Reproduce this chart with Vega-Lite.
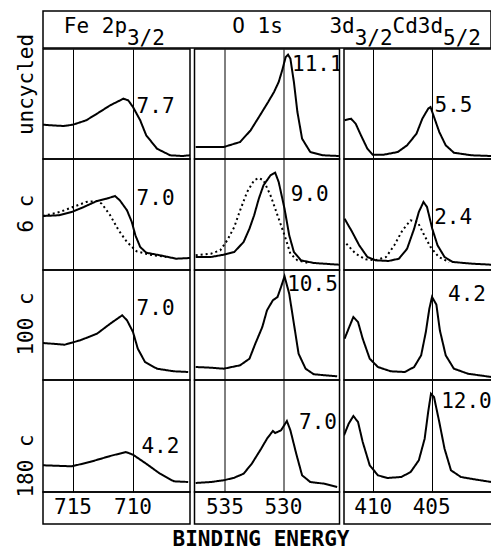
{
"$schema":"https://vega.github.io/schema/vega-lite/v6.json",
"padding":{"left":10,"top":10,"right":0,"bottom":0},
"background":"white",
"datasets":{
"spec":[
{"c":"Fe","r":"u","s":"solid","E":717.5,"I":34.3},{"c":"Fe","r":"u","s":"solid","E":716.6,"I":33.5},{"c":"Fe","r":"u","s":"solid","E":715.8,"I":33},{"c":"Fe","r":"u","s":"solid","E":715.0,"I":34.3},{"c":"Fe","r":"u","s":"solid","E":713.9,"I":38.7},{"c":"Fe","r":"u","s":"solid","E":713.0,"I":45.3},{"c":"Fe","r":"u","s":"solid","E":711.9,"I":53.7},{"c":"Fe","r":"u","s":"solid","E":710.8,"I":60.3},{"c":"Fe","r":"u","s":"solid","E":710.4,"I":58.7},{"c":"Fe","r":"u","s":"solid","E":710.0,"I":52},{"c":"Fe","r":"u","s":"solid","E":709.4,"I":38.7},{"c":"Fe","r":"u","s":"solid","E":708.9,"I":23.7},{"c":"Fe","r":"u","s":"solid","E":708.0,"I":10.3},{"c":"Fe","r":"u","s":"solid","E":706.9,"I":3.7},{"c":"Fe","r":"u","s":"solid","E":705.9,"I":3},{"c":"Fe","r":"u","s":"solid","E":705.25,"I":3.7},
{"c":"Fe","r":"6","s":"solid","E":717.5,"I":54},{"c":"Fe","r":"6","s":"solid","E":716.2,"I":54.7},{"c":"Fe","r":"6","s":"solid","E":715.1,"I":58},{"c":"Fe","r":"6","s":"solid","E":714.1,"I":63},{"c":"Fe","r":"6","s":"solid","E":713.0,"I":69},{"c":"Fe","r":"6","s":"solid","E":712.2,"I":71.3},{"c":"Fe","r":"6","s":"solid","E":711.5,"I":74},{"c":"Fe","r":"6","s":"solid","E":711.1,"I":69.7},{"c":"Fe","r":"6","s":"solid","E":710.5,"I":59.7},{"c":"Fe","r":"6","s":"solid","E":710.1,"I":48},{"c":"Fe","r":"6","s":"solid","E":709.8,"I":34.7},{"c":"Fe","r":"6","s":"solid","E":709.4,"I":23},{"c":"Fe","r":"6","s":"solid","E":708.9,"I":17.3},{"c":"Fe","r":"6","s":"solid","E":707.75,"I":14.7},{"c":"Fe","r":"6","s":"solid","E":706.4,"I":11.3},{"c":"Fe","r":"6","s":"solid","E":705.25,"I":12},
{"c":"Fe","r":"6","s":"dotted","E":717.5,"I":54},{"c":"Fe","r":"6","s":"dotted","E":716.1,"I":58},{"c":"Fe","r":"6","s":"dotted","E":715.0,"I":63},{"c":"Fe","r":"6","s":"dotted","E":713.9,"I":68},{"c":"Fe","r":"6","s":"dotted","E":713.0,"I":69},{"c":"Fe","r":"6","s":"dotted","E":712.6,"I":66.3},{"c":"Fe","r":"6","s":"dotted","E":711.9,"I":54.7},{"c":"Fe","r":"6","s":"dotted","E":711.2,"I":39.7},{"c":"Fe","r":"6","s":"dotted","E":710.5,"I":28},{"c":"Fe","r":"6","s":"dotted","E":709.7,"I":18.7},{"c":"Fe","r":"6","s":"dotted","E":708.6,"I":15.3},{"c":"Fe","r":"6","s":"dotted","E":707.2,"I":13},
{"c":"Fe","r":"100","s":"solid","E":717.5,"I":37},{"c":"Fe","r":"100","s":"solid","E":715.7,"I":35.3},{"c":"Fe","r":"100","s":"solid","E":714.4,"I":39.7},{"c":"Fe","r":"100","s":"solid","E":713.0,"I":46.3},{"c":"Fe","r":"100","s":"solid","E":711.9,"I":56.3},{"c":"Fe","r":"100","s":"solid","E":710.9,"I":64.7},{"c":"Fe","r":"100","s":"solid","E":710.5,"I":59.7},{"c":"Fe","r":"100","s":"solid","E":710.0,"I":48},{"c":"Fe","r":"100","s":"solid","E":709.6,"I":31.3},{"c":"Fe","r":"100","s":"solid","E":709.0,"I":18},{"c":"Fe","r":"100","s":"solid","E":708.0,"I":11.3},{"c":"Fe","r":"100","s":"solid","E":706.6,"I":8.7},{"c":"Fe","r":"100","s":"solid","E":705.4,"I":8},
{"c":"Fe","r":"180","s":"solid","E":717.5,"I":26.7},{"c":"Fe","r":"180","s":"solid","E":715.1,"I":25.7},{"c":"Fe","r":"180","s":"solid","E":713.6,"I":30},{"c":"Fe","r":"180","s":"solid","E":711.9,"I":36},{"c":"Fe","r":"180","s":"solid","E":710.6,"I":40},{"c":"Fe","r":"180","s":"solid","E":710.0,"I":37.3},{"c":"Fe","r":"180","s":"solid","E":708.9,"I":28.3},{"c":"Fe","r":"180","s":"solid","E":707.75,"I":18.3},{"c":"Fe","r":"180","s":"solid","E":706.6,"I":10.7},{"c":"Fe","r":"180","s":"solid","E":705.4,"I":10},
{"c":"O","r":"u","s":"solid","E":537.5,"I":12},{"c":"O","r":"u","s":"solid","E":535.1,"I":12},{"c":"O","r":"u","s":"solid","E":533.7,"I":17},{"c":"O","r":"u","s":"solid","E":532.8,"I":28.7},{"c":"O","r":"u","s":"solid","E":532.0,"I":43.7},{"c":"O","r":"u","s":"solid","E":531.3,"I":57},{"c":"O","r":"u","s":"solid","E":530.8,"I":67},{"c":"O","r":"u","s":"solid","E":530.4,"I":77},{"c":"O","r":"u","s":"solid","E":530.1,"I":88.7},{"c":"O","r":"u","s":"solid","E":529.8,"I":102},{"c":"O","r":"u","s":"solid","E":529.6,"I":104.3},{"c":"O","r":"u","s":"solid","E":529.4,"I":100.3},{"c":"O","r":"u","s":"solid","E":529.1,"I":77},{"c":"O","r":"u","s":"solid","E":528.8,"I":47},{"c":"O","r":"u","s":"solid","E":528.4,"I":20.3},{"c":"O","r":"u","s":"solid","E":527.7,"I":7},{"c":"O","r":"u","s":"solid","E":526.6,"I":3.7},{"c":"O","r":"u","s":"solid","E":525.25,"I":3},
{"c":"O","r":"6","s":"solid","E":537.5,"I":13},{"c":"O","r":"6","s":"solid","E":536.2,"I":13},{"c":"O","r":"6","s":"solid","E":535.1,"I":15.3},{"c":"O","r":"6","s":"solid","E":534.2,"I":18},{"c":"O","r":"6","s":"solid","E":533.4,"I":28},{"c":"O","r":"6","s":"solid","E":532.9,"I":41.3},{"c":"O","r":"6","s":"solid","E":532.5,"I":54.7},{"c":"O","r":"6","s":"solid","E":532.1,"I":71.3},{"c":"O","r":"6","s":"solid","E":531.7,"I":84.7},{"c":"O","r":"6","s":"solid","E":531.1,"I":94.7},{"c":"O","r":"6","s":"solid","E":530.7,"I":97.3},{"c":"O","r":"6","s":"solid","E":530.4,"I":88},{"c":"O","r":"6","s":"solid","E":529.9,"I":61.3},{"c":"O","r":"6","s":"solid","E":529.5,"I":34.7},{"c":"O","r":"6","s":"solid","E":529.1,"I":18},{"c":"O","r":"6","s":"solid","E":528.5,"I":9.7},{"c":"O","r":"6","s":"solid","E":527.4,"I":7},{"c":"O","r":"6","s":"solid","E":525.25,"I":5.3},
{"c":"O","r":"6","s":"dotted","E":537.5,"I":14.7},{"c":"O","r":"6","s":"dotted","E":536.2,"I":16.3},{"c":"O","r":"6","s":"dotted","E":535.4,"I":19.7},{"c":"O","r":"6","s":"dotted","E":534.8,"I":29.7},{"c":"O","r":"6","s":"dotted","E":534.2,"I":43},{"c":"O","r":"6","s":"dotted","E":533.7,"I":59.7},{"c":"O","r":"6","s":"dotted","E":533.1,"I":78},{"c":"O","r":"6","s":"dotted","E":532.5,"I":89.7},{"c":"O","r":"6","s":"dotted","E":532.1,"I":92},{"c":"O","r":"6","s":"dotted","E":531.7,"I":89.7},{"c":"O","r":"6","s":"dotted","E":531.1,"I":74.7},{"c":"O","r":"6","s":"dotted","E":530.5,"I":54.7},{"c":"O","r":"6","s":"dotted","E":529.9,"I":34.7},{"c":"O","r":"6","s":"dotted","E":529.4,"I":16.3},{"c":"O","r":"6","s":"dotted","E":528.8,"I":9.7},{"c":"O","r":"6","s":"dotted","E":527.9,"I":7},
{"c":"O","r":"100","s":"solid","E":537.5,"I":13},{"c":"O","r":"100","s":"solid","E":536.2,"I":12.3},{"c":"O","r":"100","s":"solid","E":535.1,"I":11.3},{"c":"O","r":"100","s":"solid","E":533.7,"I":14.7},{"c":"O","r":"100","s":"solid","E":532.9,"I":21.3},{"c":"O","r":"100","s":"solid","E":532.4,"I":36.3},{"c":"O","r":"100","s":"solid","E":531.8,"I":53},{"c":"O","r":"100","s":"solid","E":531.4,"I":69.7},{"c":"O","r":"100","s":"solid","E":530.9,"I":79.7},{"c":"O","r":"100","s":"solid","E":530.5,"I":83},{"c":"O","r":"100","s":"solid","E":530.2,"I":93},{"c":"O","r":"100","s":"solid","E":529.9,"I":103.7},{"c":"O","r":"100","s":"solid","E":529.5,"I":86.3},{"c":"O","r":"100","s":"solid","E":529.1,"I":56.3},{"c":"O","r":"100","s":"solid","E":528.7,"I":26.3},{"c":"O","r":"100","s":"solid","E":528.1,"I":11.3},{"c":"O","r":"100","s":"solid","E":527.4,"I":5.7},{"c":"O","r":"100","s":"solid","E":525.4,"I":3.7},
{"c":"O","r":"180","s":"solid","E":537.5,"I":9},{"c":"O","r":"180","s":"solid","E":536.2,"I":10},{"c":"O","r":"180","s":"solid","E":535.1,"I":11.7},{"c":"O","r":"180","s":"solid","E":534.2,"I":14.3},{"c":"O","r":"180","s":"solid","E":533.4,"I":18.3},{"c":"O","r":"180","s":"solid","E":532.7,"I":28.3},{"c":"O","r":"180","s":"solid","E":531.9,"I":43.3},{"c":"O","r":"180","s":"solid","E":531.4,"I":53.3},{"c":"O","r":"180","s":"solid","E":530.9,"I":61},{"c":"O","r":"180","s":"solid","E":530.7,"I":59},{"c":"O","r":"180","s":"solid","E":530.2,"I":61.7},{"c":"O","r":"180","s":"solid","E":529.7,"I":71},{"c":"O","r":"180","s":"solid","E":529.4,"I":61.7},{"c":"O","r":"180","s":"solid","E":528.9,"I":38.3},{"c":"O","r":"180","s":"solid","E":528.4,"I":16.7},{"c":"O","r":"180","s":"solid","E":527.7,"I":10},{"c":"O","r":"180","s":"solid","E":526.5,"I":8.3},{"c":"O","r":"180","s":"solid","E":525.4,"I":5},
{"c":"Cd","r":"u","s":"solid","E":412.45,"I":38.7},{"c":"Cd","r":"u","s":"solid","E":411.9,"I":40.3},{"c":"Cd","r":"u","s":"solid","E":411.5,"I":35.3},{"c":"Cd","r":"u","s":"solid","E":411.05,"I":23.7},{"c":"Cd","r":"u","s":"solid","E":410.5,"I":10.3},{"c":"Cd","r":"u","s":"solid","E":410.05,"I":4.3},{"c":"Cd","r":"u","s":"solid","E":409.1,"I":4.3},{"c":"Cd","r":"u","s":"solid","E":407.9,"I":7},{"c":"Cd","r":"u","s":"solid","E":407.1,"I":13.7},{"c":"Cd","r":"u","s":"solid","E":406.3,"I":25.3},{"c":"Cd","r":"u","s":"solid","E":405.8,"I":40.3},{"c":"Cd","r":"u","s":"solid","E":405.3,"I":50.3},{"c":"Cd","r":"u","s":"solid","E":405.1,"I":52},{"c":"Cd","r":"u","s":"solid","E":404.8,"I":42},{"c":"Cd","r":"u","s":"solid","E":404.35,"I":27},{"c":"Cd","r":"u","s":"solid","E":403.8,"I":13.7},{"c":"Cd","r":"u","s":"solid","E":403.1,"I":6.3},{"c":"Cd","r":"u","s":"solid","E":401.6,"I":3.7},{"c":"Cd","r":"u","s":"solid","E":399.9,"I":3},
{"c":"Cd","r":"6","s":"solid","E":412.45,"I":51.3},{"c":"Cd","r":"6","s":"solid","E":411.8,"I":38},{"c":"Cd","r":"6","s":"solid","E":411.2,"I":24.7},{"c":"Cd","r":"6","s":"solid","E":410.5,"I":13},{"c":"Cd","r":"6","s":"solid","E":409.8,"I":9.7},{"c":"Cd","r":"6","s":"solid","E":408.7,"I":9},{"c":"Cd","r":"6","s":"solid","E":407.8,"I":11.3},{"c":"Cd","r":"6","s":"solid","E":407.1,"I":21.3},{"c":"Cd","r":"6","s":"solid","E":406.5,"I":41.3},{"c":"Cd","r":"6","s":"solid","E":406.1,"I":58},{"c":"Cd","r":"6","s":"solid","E":405.7,"I":68},{"c":"Cd","r":"6","s":"solid","E":405.4,"I":63},{"c":"Cd","r":"6","s":"solid","E":404.95,"I":41.3},{"c":"Cd","r":"6","s":"solid","E":404.5,"I":24.7},{"c":"Cd","r":"6","s":"solid","E":403.9,"I":13},{"c":"Cd","r":"6","s":"solid","E":403.2,"I":8},{"c":"Cd","r":"6","s":"solid","E":401.5,"I":6.3},{"c":"Cd","r":"6","s":"solid","E":399.9,"I":5.3},
{"c":"Cd","r":"6","s":"dotted","E":412.3,"I":26.3},{"c":"Cd","r":"6","s":"dotted","E":411.5,"I":16.3},{"c":"Cd","r":"6","s":"dotted","E":410.65,"I":10.7},{"c":"Cd","r":"6","s":"dotted","E":409.8,"I":9.7},{"c":"Cd","r":"6","s":"dotted","E":408.9,"I":13},{"c":"Cd","r":"6","s":"dotted","E":408.2,"I":24.7},{"c":"Cd","r":"6","s":"dotted","E":407.5,"I":39.7},{"c":"Cd","r":"6","s":"dotted","E":406.8,"I":49.7},{"c":"Cd","r":"6","s":"dotted","E":406.2,"I":48},{"c":"Cd","r":"6","s":"dotted","E":405.7,"I":36.3},{"c":"Cd","r":"6","s":"dotted","E":405.1,"I":23},{"c":"Cd","r":"6","s":"dotted","E":404.4,"I":13},{"c":"Cd","r":"6","s":"dotted","E":403.5,"I":8},
{"c":"Cd","r":"100","s":"solid","E":412.45,"I":41.3},{"c":"Cd","r":"100","s":"solid","E":412.05,"I":53},{"c":"Cd","r":"100","s":"solid","E":411.7,"I":63},{"c":"Cd","r":"100","s":"solid","E":411.3,"I":58},{"c":"Cd","r":"100","s":"solid","E":410.9,"I":41.3},{"c":"Cd","r":"100","s":"solid","E":410.3,"I":21.3},{"c":"Cd","r":"100","s":"solid","E":409.6,"I":13},{"c":"Cd","r":"100","s":"solid","E":408.5,"I":8.7},{"c":"Cd","r":"100","s":"solid","E":407.3,"I":8},{"c":"Cd","r":"100","s":"solid","E":406.5,"I":13},{"c":"Cd","r":"100","s":"solid","E":405.9,"I":24.7},{"c":"Cd","r":"100","s":"solid","E":405.5,"I":48},{"c":"Cd","r":"100","s":"solid","E":405.2,"I":71.3},{"c":"Cd","r":"100","s":"solid","E":404.97,"I":83},{"c":"Cd","r":"100","s":"solid","E":404.6,"I":75.5},{"c":"Cd","r":"100","s":"solid","E":404.3,"I":49.7},{"c":"Cd","r":"100","s":"solid","E":403.8,"I":24.7},{"c":"Cd","r":"100","s":"solid","E":403.1,"I":11.3},{"c":"Cd","r":"100","s":"solid","E":401.9,"I":6.3},{"c":"Cd","r":"100","s":"solid","E":399.9,"I":3},
{"c":"Cd","r":"180","s":"solid","E":412.5,"I":56.7},{"c":"Cd","r":"180","s":"solid","E":412.1,"I":68.3},{"c":"Cd","r":"180","s":"solid","E":411.7,"I":76},{"c":"Cd","r":"180","s":"solid","E":411.3,"I":70},{"c":"Cd","r":"180","s":"solid","E":410.9,"I":50},{"c":"Cd","r":"180","s":"solid","E":410.3,"I":26.7},{"c":"Cd","r":"180","s":"solid","E":409.6,"I":16.7},{"c":"Cd","r":"180","s":"solid","E":408.8,"I":14},{"c":"Cd","r":"180","s":"solid","E":407.6,"I":15},{"c":"Cd","r":"180","s":"solid","E":406.8,"I":20},{"c":"Cd","r":"180","s":"solid","E":406.1,"I":31.7},{"c":"Cd","r":"180","s":"solid","E":405.6,"I":53.3},{"c":"Cd","r":"180","s":"solid","E":405.3,"I":80},{"c":"Cd","r":"180","s":"solid","E":405.06,"I":98.3},{"c":"Cd","r":"180","s":"solid","E":404.8,"I":95},{"c":"Cd","r":"180","s":"solid","E":404.35,"I":70},{"c":"Cd","r":"180","s":"solid","E":403.9,"I":43.3},{"c":"Cd","r":"180","s":"solid","E":403.35,"I":21.7},{"c":"Cd","r":"180","s":"solid","E":402.5,"I":15},{"c":"Cd","r":"180","s":"solid","E":401.35,"I":12.7},{"c":"Cd","r":"180","s":"solid","E":399.9,"I":10}
],
"lab":[
{"c":"Fe","r":"u","t":"7.7","E":709.7,"I":52},
{"c":"Fe","r":"6","t":"7.0","E":709.7,"I":71},
{"c":"Fe","r":"100","t":"7.0","E":709.7,"I":71},
{"c":"Fe","r":"180","t":"4.2","E":709.3,"I":45},
{"c":"O","r":"u","t":"11.1","E":529.26,"I":94},
{"c":"O","r":"6","t":"9.0","E":529.37,"I":75},
{"c":"O","r":"100","t":"10.5","E":529.67,"I":95},
{"c":"O","r":"180","t":"7.0","E":528.66,"I":69},
{"c":"Cd","r":"u","t":"5.5","E":404.76,"I":53},
{"c":"Cd","r":"6","t":"2.4","E":404.79,"I":52},
{"c":"Cd","r":"100","t":"4.2","E":403.6,"I":85.5},
{"c":"Cd","r":"180","t":"12.0","E":404.19,"I":90}
],
"ticks":[
{"c":"Fe","t":"715","E":715},{"c":"Fe","t":"710","E":710},
{"c":"O","t":"535","E":535},{"c":"O","t":"530","E":530},
{"c":"Cd","t":"410","E":410},{"c":"Cd","t":"405","E":405}
],
"hdr":[
{"t":"Fe 2p","p":1.65,"l":"main"},{"t":"3/2","p":6.65,"l":"sub"},
{"t":"O 1s","p":15.0,"l":"main"},
{"t":"3d","p":22.7,"l":"main"},{"t":"3/2","p":24.7,"l":"sub"},
{"t":"Cd3d","p":27.7,"l":"main"},{"t":"5/2","p":31.7,"l":"sub"}
],
"rowlab":[{"r":"u","t":"uncycled"},{"r":"6","t":"6 c"},{"r":"100","t":"100 c"},{"r":"180","t":"180 c"}],
"xt":[{"t":"BINDING ENERGY"}]
},
"spacing":-1.5,
"hconcat":[
{"spacing":0,"bounds":"flush","vconcat":[
{"width":33,"height":147,"data":{"name":"rowlab"},"transform":[{"filter":"datum.r==='u'"}],"mark":{"type":"text","angle":270,"align":"center","baseline":"middle","clip":true},"encoding":{"text":{"field":"t"}}},
{"width":33,"height":111,"data":{"name":"rowlab"},"transform":[{"filter":"datum.r==='6'"}],"mark":{"type":"text","angle":270,"align":"center","baseline":"middle","clip":true},"encoding":{"text":{"field":"t"}}},
{"width":33,"height":110,"data":{"name":"rowlab"},"transform":[{"filter":"datum.r==='100'"}],"mark":{"type":"text","angle":270,"align":"center","baseline":"middle","clip":true},"encoding":{"text":{"field":"t"}}},
{"width":33,"height":174,"data":{"name":"rowlab"},"transform":[{"filter":"datum.r==='180'"}],"mark":{"type":"text","angle":270,"align":"center","baseline":"middle","clip":true},"encoding":{"text":{"field":"t"}}}
]},
{"spacing":-1.5,"vconcat":[
{"width":448,"height":37,"data":{"name":"hdr"},"mark":{"type":"text","align":"left","baseline":"alphabetic","clip":true},
 "encoding":{"x":{"field":"p","type":"quantitative","scale":{"domain":[0,35.5],"nice":false,"zero":false},"axis":null},
 "y":{"field":"l","type":"nominal","scale":{"type":"point","domain":["main","sub"],"range":[22,34],"padding":0},"axis":null},
 "text":{"field":"t"}}},
{"spacing":2.5,"hconcat":[
{"spacing":0,"bounds":"flush","vconcat":[
{"width":147,"height":110,"layer":[
 {"data":{"name":"spec"},"transform":[{"filter":"datum.c==='Fe' && datum.r==='u'"}],"mark":{"type":"line","color":"black","strokeWidth":2,"clip":true},
  "encoding":{"x":{"field":"E","type":"quantitative","scale":{"domain":[705.25,717.5],"reverse":true,"nice":false,"zero":false},"axis":{"values":[710,715],"grid":true,"gridColor":"black","gridWidth":1,"gridOpacity":1,"labels":false,"ticks":false,"domain":false,"title":null}},
  "y":{"field":"I","type":"quantitative","scale":{"domain":[0,110],"nice":false,"zero":false},"axis":null},
  "strokeDash":{"field":"s","type":"nominal","scale":{"domain":["solid","dotted"],"range":[[1,0],[2,3]]},"legend":null}}},
 {"data":{"name":"lab"},"transform":[{"filter":"datum.c==='Fe' && datum.r==='u'"}],"mark":{"type":"text","align":"left","baseline":"middle","clip":true},
  "encoding":{"x":{"field":"E","type":"quantitative"},"y":{"field":"I","type":"quantitative"},"text":{"field":"t"}}}
]},
{"width":147,"height":111,"layer":[
 {"data":{"name":"spec"},"transform":[{"filter":"datum.c==='Fe' && datum.r==='6'"}],"mark":{"type":"line","color":"black","strokeWidth":2,"clip":true},
  "encoding":{"x":{"field":"E","type":"quantitative","scale":{"domain":[705.25,717.5],"reverse":true,"nice":false,"zero":false},"axis":{"values":[710,715],"grid":true,"gridColor":"black","gridWidth":1,"gridOpacity":1,"labels":false,"ticks":false,"domain":false,"title":null}},
  "y":{"field":"I","type":"quantitative","scale":{"domain":[0,111],"nice":false,"zero":false},"axis":null},
  "strokeDash":{"field":"s","type":"nominal","scale":{"domain":["solid","dotted"],"range":[[1,0],[2,3]]},"legend":null}}},
 {"data":{"name":"lab"},"transform":[{"filter":"datum.c==='Fe' && datum.r==='6'"}],"mark":{"type":"text","align":"left","baseline":"middle","clip":true},
  "encoding":{"x":{"field":"E","type":"quantitative"},"y":{"field":"I","type":"quantitative"},"text":{"field":"t"}}}
]},
{"width":147,"height":110,"layer":[
 {"data":{"name":"spec"},"transform":[{"filter":"datum.c==='Fe' && datum.r==='100'"}],"mark":{"type":"line","color":"black","strokeWidth":2,"clip":true},
  "encoding":{"x":{"field":"E","type":"quantitative","scale":{"domain":[705.25,717.5],"reverse":true,"nice":false,"zero":false},"axis":{"values":[710,715],"grid":true,"gridColor":"black","gridWidth":1,"gridOpacity":1,"labels":false,"ticks":false,"domain":false,"title":null}},
  "y":{"field":"I","type":"quantitative","scale":{"domain":[0,110],"nice":false,"zero":false},"axis":null},
  "strokeDash":{"field":"s","type":"nominal","scale":{"domain":["solid","dotted"],"range":[[1,0],[2,3]]},"legend":null}}},
 {"data":{"name":"lab"},"transform":[{"filter":"datum.c==='Fe' && datum.r==='100'"}],"mark":{"type":"text","align":"left","baseline":"middle","clip":true},
  "encoding":{"x":{"field":"E","type":"quantitative"},"y":{"field":"I","type":"quantitative"},"text":{"field":"t"}}}
]},
{"width":147,"height":112,"layer":[
 {"data":{"name":"spec"},"transform":[{"filter":"datum.c==='Fe' && datum.r==='180'"}],"mark":{"type":"line","color":"black","strokeWidth":2,"clip":true},
  "encoding":{"x":{"field":"E","type":"quantitative","scale":{"domain":[705.25,717.5],"reverse":true,"nice":false,"zero":false},"axis":{"values":[710,715],"grid":true,"gridColor":"black","gridWidth":1,"gridOpacity":1,"labels":false,"ticks":false,"domain":false,"title":null}},
  "y":{"field":"I","type":"quantitative","scale":{"domain":[0,112],"nice":false,"zero":false},"axis":null},
  "strokeDash":{"field":"s","type":"nominal","scale":{"domain":["solid","dotted"],"range":[[1,0],[2,3]]},"legend":null}}},
 {"data":{"name":"lab"},"transform":[{"filter":"datum.c==='Fe' && datum.r==='180'"}],"mark":{"type":"text","align":"left","baseline":"middle","clip":true},
  "encoding":{"x":{"field":"E","type":"quantitative"},"y":{"field":"I","type":"quantitative"},"text":{"field":"t"}}}
]},
{"width":147,"height":32,"data":{"name":"ticks"},"transform":[{"filter":"datum.c==='Fe'"}],"mark":{"type":"text","align":"center","baseline":"middle","clip":true},
 "encoding":{"x":{"field":"E","type":"quantitative","scale":{"domain":[705.25,717.5],"reverse":true,"nice":false,"zero":false},"axis":null},"text":{"field":"t"}}}
]},
{"spacing":0,"bounds":"flush","vconcat":[
{"width":145,"height":110,"layer":[
 {"data":{"name":"spec"},"transform":[{"filter":"datum.c==='O' && datum.r==='u'"}],"mark":{"type":"line","color":"black","strokeWidth":2,"clip":true},
  "encoding":{"x":{"field":"E","type":"quantitative","scale":{"domain":[525.2,537.6],"reverse":true,"nice":false,"zero":false},"axis":{"values":[530,535],"grid":true,"gridColor":"black","gridWidth":1,"gridOpacity":1,"labels":false,"ticks":false,"domain":false,"title":null}},
  "y":{"field":"I","type":"quantitative","scale":{"domain":[0,110],"nice":false,"zero":false},"axis":null},
  "strokeDash":{"field":"s","type":"nominal","scale":{"domain":["solid","dotted"],"range":[[1,0],[2,3]]},"legend":null}}},
 {"data":{"name":"lab"},"transform":[{"filter":"datum.c==='O' && datum.r==='u'"}],"mark":{"type":"text","align":"left","baseline":"middle","clip":true},
  "encoding":{"x":{"field":"E","type":"quantitative"},"y":{"field":"I","type":"quantitative"},"text":{"field":"t"}}}
]},
{"width":145,"height":111,"layer":[
 {"data":{"name":"spec"},"transform":[{"filter":"datum.c==='O' && datum.r==='6'"}],"mark":{"type":"line","color":"black","strokeWidth":2,"clip":true},
  "encoding":{"x":{"field":"E","type":"quantitative","scale":{"domain":[525.2,537.6],"reverse":true,"nice":false,"zero":false},"axis":{"values":[530,535],"grid":true,"gridColor":"black","gridWidth":1,"gridOpacity":1,"labels":false,"ticks":false,"domain":false,"title":null}},
  "y":{"field":"I","type":"quantitative","scale":{"domain":[0,111],"nice":false,"zero":false},"axis":null},
  "strokeDash":{"field":"s","type":"nominal","scale":{"domain":["solid","dotted"],"range":[[1,0],[2,3]]},"legend":null}}},
 {"data":{"name":"lab"},"transform":[{"filter":"datum.c==='O' && datum.r==='6'"}],"mark":{"type":"text","align":"left","baseline":"middle","clip":true},
  "encoding":{"x":{"field":"E","type":"quantitative"},"y":{"field":"I","type":"quantitative"},"text":{"field":"t"}}}
]},
{"width":145,"height":110,"layer":[
 {"data":{"name":"spec"},"transform":[{"filter":"datum.c==='O' && datum.r==='100'"}],"mark":{"type":"line","color":"black","strokeWidth":2,"clip":true},
  "encoding":{"x":{"field":"E","type":"quantitative","scale":{"domain":[525.2,537.6],"reverse":true,"nice":false,"zero":false},"axis":{"values":[530,535],"grid":true,"gridColor":"black","gridWidth":1,"gridOpacity":1,"labels":false,"ticks":false,"domain":false,"title":null}},
  "y":{"field":"I","type":"quantitative","scale":{"domain":[0,110],"nice":false,"zero":false},"axis":null},
  "strokeDash":{"field":"s","type":"nominal","scale":{"domain":["solid","dotted"],"range":[[1,0],[2,3]]},"legend":null}}},
 {"data":{"name":"lab"},"transform":[{"filter":"datum.c==='O' && datum.r==='100'"}],"mark":{"type":"text","align":"left","baseline":"middle","clip":true},
  "encoding":{"x":{"field":"E","type":"quantitative"},"y":{"field":"I","type":"quantitative"},"text":{"field":"t"}}}
]},
{"width":145,"height":112,"layer":[
 {"data":{"name":"spec"},"transform":[{"filter":"datum.c==='O' && datum.r==='180'"}],"mark":{"type":"line","color":"black","strokeWidth":2,"clip":true},
  "encoding":{"x":{"field":"E","type":"quantitative","scale":{"domain":[525.2,537.6],"reverse":true,"nice":false,"zero":false},"axis":{"values":[530,535],"grid":true,"gridColor":"black","gridWidth":1,"gridOpacity":1,"labels":false,"ticks":false,"domain":false,"title":null}},
  "y":{"field":"I","type":"quantitative","scale":{"domain":[0,112],"nice":false,"zero":false},"axis":null},
  "strokeDash":{"field":"s","type":"nominal","scale":{"domain":["solid","dotted"],"range":[[1,0],[2,3]]},"legend":null}}},
 {"data":{"name":"lab"},"transform":[{"filter":"datum.c==='O' && datum.r==='180'"}],"mark":{"type":"text","align":"left","baseline":"middle","clip":true},
  "encoding":{"x":{"field":"E","type":"quantitative"},"y":{"field":"I","type":"quantitative"},"text":{"field":"t"}}}
]},
{"width":145,"height":32,"data":{"name":"ticks"},"transform":[{"filter":"datum.c==='O'"}],"mark":{"type":"text","align":"center","baseline":"middle","clip":true},
 "encoding":{"x":{"field":"E","type":"quantitative","scale":{"domain":[525.2,537.6],"reverse":true,"nice":false,"zero":false},"axis":null},"text":{"field":"t"}}}
]},
{"spacing":0,"bounds":"flush","vconcat":[
{"width":148,"height":110,"layer":[
 {"data":{"name":"spec"},"transform":[{"filter":"datum.c==='Cd' && datum.r==='u'"}],"mark":{"type":"line","color":"black","strokeWidth":2,"clip":true},
  "encoding":{"x":{"field":"E","type":"quantitative","scale":{"domain":[399.84,412.5],"reverse":true,"nice":false,"zero":false},"axis":{"values":[405,410],"grid":true,"gridColor":"black","gridWidth":1,"gridOpacity":1,"labels":false,"ticks":false,"domain":false,"title":null}},
  "y":{"field":"I","type":"quantitative","scale":{"domain":[0,110],"nice":false,"zero":false},"axis":null},
  "strokeDash":{"field":"s","type":"nominal","scale":{"domain":["solid","dotted"],"range":[[1,0],[2,3]]},"legend":null}}},
 {"data":{"name":"lab"},"transform":[{"filter":"datum.c==='Cd' && datum.r==='u'"}],"mark":{"type":"text","align":"left","baseline":"middle","clip":true},
  "encoding":{"x":{"field":"E","type":"quantitative"},"y":{"field":"I","type":"quantitative"},"text":{"field":"t"}}}
]},
{"width":148,"height":111,"layer":[
 {"data":{"name":"spec"},"transform":[{"filter":"datum.c==='Cd' && datum.r==='6'"}],"mark":{"type":"line","color":"black","strokeWidth":2,"clip":true},
  "encoding":{"x":{"field":"E","type":"quantitative","scale":{"domain":[399.84,412.5],"reverse":true,"nice":false,"zero":false},"axis":{"values":[405,410],"grid":true,"gridColor":"black","gridWidth":1,"gridOpacity":1,"labels":false,"ticks":false,"domain":false,"title":null}},
  "y":{"field":"I","type":"quantitative","scale":{"domain":[0,111],"nice":false,"zero":false},"axis":null},
  "strokeDash":{"field":"s","type":"nominal","scale":{"domain":["solid","dotted"],"range":[[1,0],[2,3]]},"legend":null}}},
 {"data":{"name":"lab"},"transform":[{"filter":"datum.c==='Cd' && datum.r==='6'"}],"mark":{"type":"text","align":"left","baseline":"middle","clip":true},
  "encoding":{"x":{"field":"E","type":"quantitative"},"y":{"field":"I","type":"quantitative"},"text":{"field":"t"}}}
]},
{"width":148,"height":110,"layer":[
 {"data":{"name":"spec"},"transform":[{"filter":"datum.c==='Cd' && datum.r==='100'"}],"mark":{"type":"line","color":"black","strokeWidth":2,"clip":true},
  "encoding":{"x":{"field":"E","type":"quantitative","scale":{"domain":[399.84,412.5],"reverse":true,"nice":false,"zero":false},"axis":{"values":[405,410],"grid":true,"gridColor":"black","gridWidth":1,"gridOpacity":1,"labels":false,"ticks":false,"domain":false,"title":null}},
  "y":{"field":"I","type":"quantitative","scale":{"domain":[0,110],"nice":false,"zero":false},"axis":null},
  "strokeDash":{"field":"s","type":"nominal","scale":{"domain":["solid","dotted"],"range":[[1,0],[2,3]]},"legend":null}}},
 {"data":{"name":"lab"},"transform":[{"filter":"datum.c==='Cd' && datum.r==='100'"}],"mark":{"type":"text","align":"left","baseline":"middle","clip":true},
  "encoding":{"x":{"field":"E","type":"quantitative"},"y":{"field":"I","type":"quantitative"},"text":{"field":"t"}}}
]},
{"width":148,"height":112,"layer":[
 {"data":{"name":"spec"},"transform":[{"filter":"datum.c==='Cd' && datum.r==='180'"}],"mark":{"type":"line","color":"black","strokeWidth":2,"clip":true},
  "encoding":{"x":{"field":"E","type":"quantitative","scale":{"domain":[399.84,412.5],"reverse":true,"nice":false,"zero":false},"axis":{"values":[405,410],"grid":true,"gridColor":"black","gridWidth":1,"gridOpacity":1,"labels":false,"ticks":false,"domain":false,"title":null}},
  "y":{"field":"I","type":"quantitative","scale":{"domain":[0,112],"nice":false,"zero":false},"axis":null},
  "strokeDash":{"field":"s","type":"nominal","scale":{"domain":["solid","dotted"],"range":[[1,0],[2,3]]},"legend":null}}},
 {"data":{"name":"lab"},"transform":[{"filter":"datum.c==='Cd' && datum.r==='180'"}],"mark":{"type":"text","align":"left","baseline":"middle","clip":true},
  "encoding":{"x":{"field":"E","type":"quantitative"},"y":{"field":"I","type":"quantitative"},"text":{"field":"t"}}}
]},
{"width":148,"height":32,"data":{"name":"ticks"},"transform":[{"filter":"datum.c==='Cd'"}],"mark":{"type":"text","align":"center","baseline":"middle","clip":true},
 "encoding":{"x":{"field":"E","type":"quantitative","scale":{"domain":[399.84,412.5],"reverse":true,"nice":false,"zero":false},"axis":null},"text":{"field":"t"}}}
]}
]},
{"width":448,"height":30,"data":{"name":"xt"},"mark":{"type":"text","align":"center","baseline":"middle","fontWeight":"bold","dx":-6,"clip":true},"encoding":{"text":{"field":"t"}}}
]}
],
"config":{
 "view":{"stroke":"black","strokeWidth":1.5},
 "text":{"font":"DejaVu Sans Mono","fontSize":21,"color":"black"}
}
}
